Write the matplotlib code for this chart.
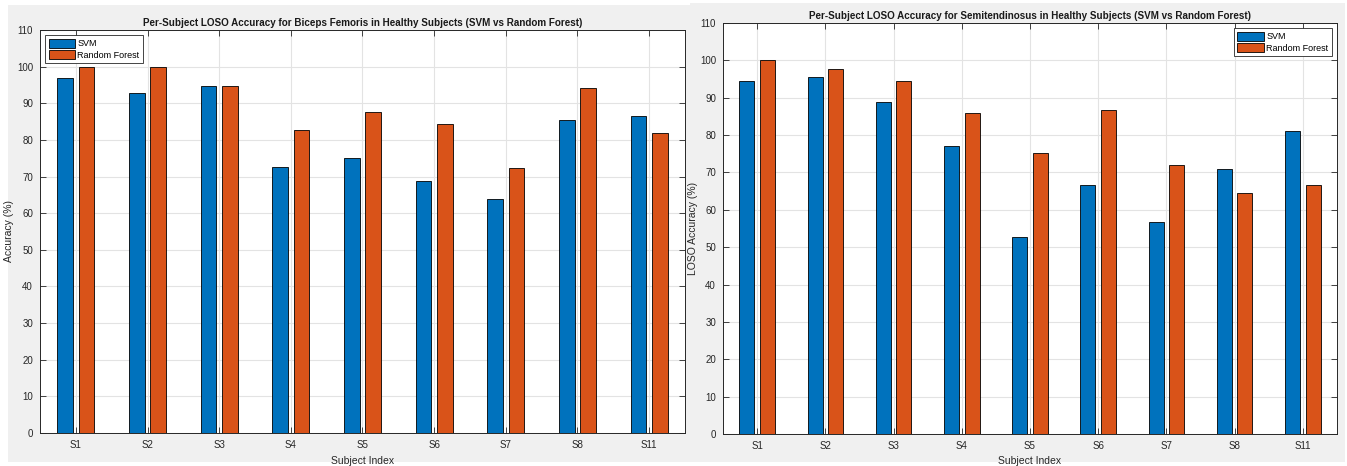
import numpy as np
import matplotlib
matplotlib.use('Agg')
import matplotlib.pyplot as plt
from matplotlib.patches import Rectangle

plt.rcParams['font.family'] = ['Liberation Sans Narrow', 'Liberation Sans', 'DejaVu Sans']

## data ##
subjects = ['S1', 'S2', 'S3', 'S4', 'S5', 'S6', 'S7', 'S8', 'S11']

bf_svm = [96.9, 92.9, 94.6, 72.5, 75.1, 68.8, 63.8, 85.5, 86.4]    # biceps femoris
bf_rf = [100.0, 100.0, 94.6, 82.8, 87.6, 84.3, 72.3, 94.1, 81.8]

st_svm = [94.6, 95.5, 88.9, 77.2, 52.7, 66.7, 56.8, 70.9, 81.0]    # semitendinosus
st_rf = [100.0, 97.8, 94.6, 85.9, 75.1, 86.7, 71.9, 64.6, 66.7]

svm_col = '#0072BD'
rf_col = '#D95319'
W, H = 1347, 466

fig = plt.figure(figsize=(W / 100, H / 100), dpi=100)
fig.patch.set_facecolor('white')

# grey window backgrounds (x0, y_top, x1, y_bottom in pixels)
for x0, y0, x1, y1 in [(8, 5, 690, 462), (690, 3, 1345, 462)]:
    fig.patches.append(Rectangle((x0 / W, 1 - y1 / H), (x1 - x0) / W, (y1 - y0) / H,
                                 transform=fig.transFigure, facecolor='#f0f0f0',
                                 edgecolor='none', zorder=-5))


def make_panel(px, svm, rf, title, ylabel, ylabel_x, legend_loc):
    x0, ytop, x1, ybot = px
    ax = fig.add_axes([x0 / W, 1 - ybot / H, (x1 - x0) / W, (ybot - ytop) / H])
    ax.set_facecolor('white')
    x = np.arange(1, len(subjects) + 1)
    bw = 0.22
    ax.bar(x - 0.15, svm, bw, color=svm_col, edgecolor='black', linewidth=0.6,
           label='SVM', zorder=3)
    ax.bar(x + 0.15, rf, bw, color=rf_col, edgecolor='black', linewidth=0.6,
           label='Random Forest', zorder=3)
    ax.set_xlim(0.5, len(subjects) + 0.5)
    ax.set_ylim(0, 110)
    ax.set_xticks(x)
    ax.set_xticklabels(subjects)
    ax.set_yticks(np.arange(0, 111, 10))
    ax.grid(True, color='#e3e3e3', linewidth=0.8, zorder=0)
    ax.set_axisbelow(True)
    ax.tick_params(direction='in', top=True, right=True, length=4, width=0.6,
                   color='#262626', labelsize=7, labelcolor='#262626', pad=5)
    for s in ax.spines.values():
        s.set_color('#262626')
        s.set_linewidth(0.7)
    ax.set_title(title, fontsize=7.1, fontweight='bold', color='#1a1a1a', pad=3)
    ax.set_xlabel('Subject Index', fontsize=7.5, color='#262626', labelpad=4)
    ax.set_ylabel(ylabel, fontsize=7.5, color='#262626')
    ax.yaxis.set_label_coords((ylabel_x - x0) / (x1 - x0), 0.5)
    leg = ax.legend(loc=legend_loc, fontsize=6.5, frameon=True, fancybox=False,
                    edgecolor='#262626', framealpha=1, handlelength=2.9,
                    handleheight=1.25, handletextpad=0.3, borderpad=0.35,
                    labelspacing=0.15, borderaxespad=0.6)
    leg.get_frame().set_linewidth(0.6)
    return ax


make_panel((40, 30, 685, 433), bf_svm, bf_rf,
           'Per-Subject LOSO Accuracy for Biceps Femoris in Healthy Subjects (SVM vs Random Forest)',
           'Accuracy (%)', 14, 'upper left')
make_panel((723, 23, 1337, 434), st_svm, st_rf,
           'Per-Subject LOSO Accuracy for Semitendinosus in Healthy Subjects (SVM vs Random Forest)',
           'LOSO Accuracy (%)', 698, 'upper right')

plt.savefig('out.png', dpi=100)
